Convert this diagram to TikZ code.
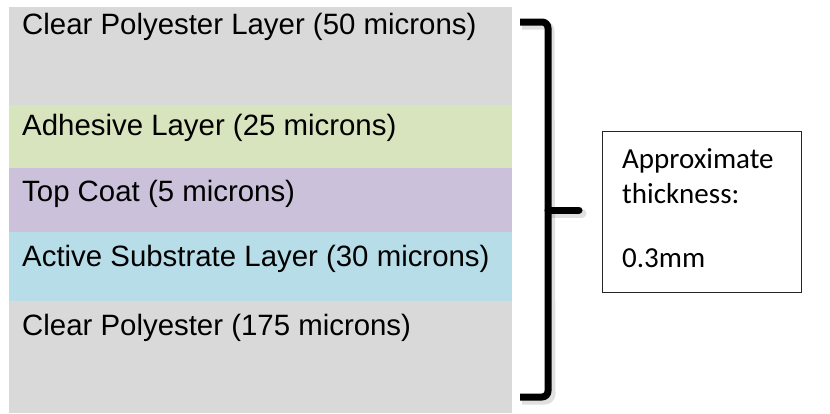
\documentclass[tikz,border=0pt]{standalone}
\usepackage{fontspec}
\setmainfont{Liberation Sans}
\newfontfamily\layerfont{Liberation Sans}
\newfontfamily\boxfont{Carlito}
\definecolor{polygrey}{HTML}{D9D9D9}
\definecolor{adhgreen}{HTML}{D7E4BD}
\definecolor{coatpurple}{HTML}{CCC1DA}
\definecolor{activeblue}{HTML}{B7DEE8}
\tikzset{
  layerlabel/.style={anchor=base west, inner sep=0pt, font=\layerfont\fontsize{29.4}{34}\selectfont},
  boxlabel/.style={anchor=base west, inner sep=0pt, font=\boxfont\fontsize{29}{35}\selectfont},
  bracestroke/.style={line width=7pt, line join=round},
  braceshadow/.style={line width=9pt, draw=black, opacity=0.12, line join=round}
}
\begin{document}
\begin{tikzpicture}[x=1pt,y=-1pt]
\useasboundingbox (0,0) rectangle (830,413);

% stacked layers
\fill[polygrey]   (9,7)   rectangle (512,105);
\fill[adhgreen]   (9,105) rectangle (512,168);
\fill[coatpurple] (9,168) rectangle (512,232);
\fill[activeblue] (9,232) rectangle (512,301);
\fill[polygrey]   (9,301) rectangle (512,413);

\node[layerlabel] (l1) at (22,34)  {Clear Polyester Layer (50 microns)};
\node[layerlabel] (l2) at (22,135) {Adhesive Layer (25 microns)};
\node[layerlabel] (l3) at (22,201) {Top Coat (5 microns)};
\node[layerlabel] (l4) at (22,266) {Active Substrate Layer (30 microns)};
\node[layerlabel] (l5) at (22,335) {Clear Polyester (175 microns)};

% curly brace with a soft shadow
\draw[braceshadow] (522,25) -- (544,25) arc[start angle=-90, end angle=0, radius=6] -- (551,394) arc[start angle=0, end angle=90, radius=6] -- (522,400);
\draw[braceshadow, line cap=round] (551,213) -- (582,213);
\draw[bracestroke] (520,22) -- (542,22) arc[start angle=-90, end angle=0, radius=6] -- (548,391) arc[start angle=0, end angle=90, radius=6] -- (520,397);
\draw[bracestroke, line cap=round] (548,210) -- (579,210);

% thickness box
\draw[line width=1pt, draw=black!85] (602,131) rectangle (801,292);
\node[boxlabel] (t1) at (622,168) {Approximate};
\node[boxlabel] (t2) at (622,203) {thickness:};
\node[boxlabel] (t3) at (622,267) {0.3mm};
\end{tikzpicture}
\end{document}
